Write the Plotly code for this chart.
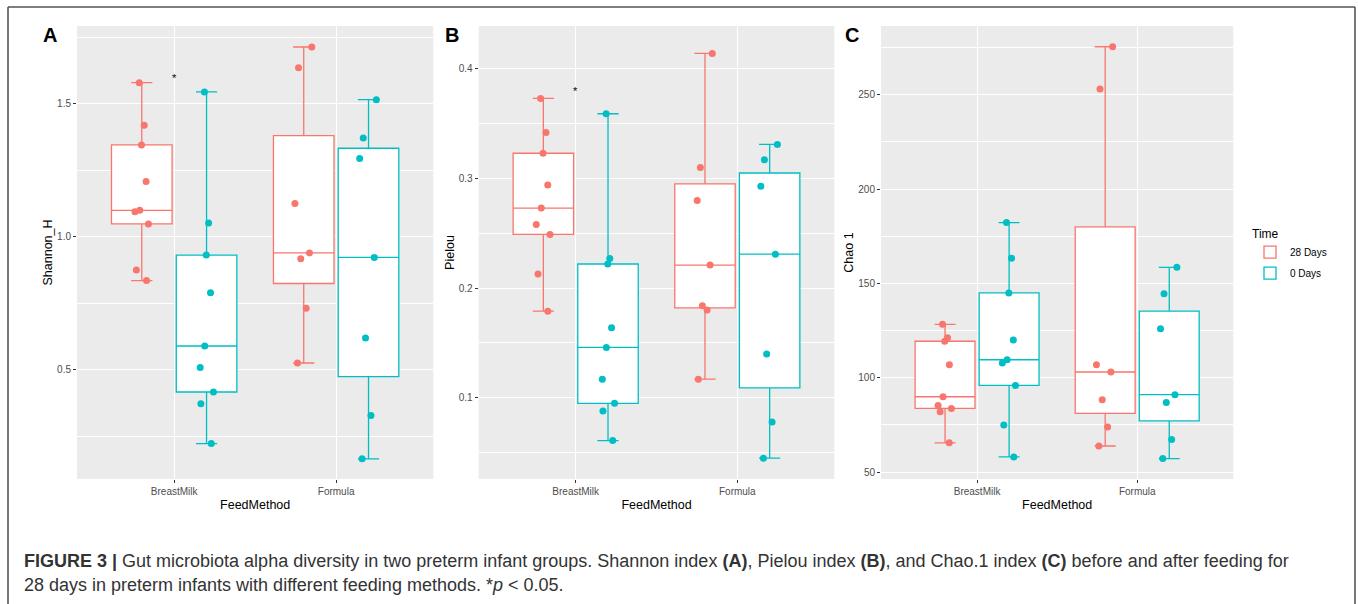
import plotly.graph_objects as go

W, H = 1358, 604

# ---------------- data ----------------
feed_methods = ["BreastMilk", "Formula"]
time_labels = ["28 Days", "0 Days"]
time_colors = ["#F8766D", "#00BFC4"]

shannon_bm_28 = [1.579, 1.419, 1.345, 1.207, 1.099, 1.094, 1.048, 0.875, 0.835]
shannon_bm_0 = [1.544, 1.051, 0.931, 0.789, 0.589, 0.508, 0.416, 0.372, 0.222]
shannon_f_28 = [1.713, 1.635, 1.125, 0.939, 0.917, 0.731, 0.525]
shannon_f_0 = [1.515, 1.371, 1.294, 0.922, 0.619, 0.328, 0.165]

pielou_bm_28 = [0.373, 0.342, 0.323, 0.294, 0.273, 0.258, 0.249, 0.213, 0.179]
pielou_bm_0 = [0.359, 0.227, 0.222, 0.164, 0.146, 0.117, 0.095, 0.088, 0.061]
pielou_f_28 = [0.414, 0.310, 0.280, 0.221, 0.184, 0.180, 0.117]
pielou_f_0 = [0.331, 0.317, 0.293, 0.231, 0.140, 0.078, 0.045]

chao_bm_28 = [128.3, 121.2, 119.3, 106.9, 89.9, 85.2, 83.7, 82.0, 65.5]
chao_bm_0 = [182.2, 163.3, 144.9, 120.0, 109.5, 107.8, 95.9, 74.9, 58.0]
chao_f_28 = [275.4, 253.0, 106.9, 103.0, 88.3, 73.9, 63.8]
chao_f_0 = [158.5, 144.5, 126.0, 91.0, 86.9, 67.3, 57.1]

y_titles = ["Shannon_H", "Pielou", "Chao 1"]
panel_letters = ["A", "B", "C"]
y_ranges = [[0.089, 1.792], [0.026, 0.439], [46.3, 286.4]]
y_dticks = [0.5, 0.1, 50]
y_formats = [".1f", ".1f", "d"]
signif_y = [1.607, 0.3824, None]  # '*' above BreastMilk

caption_line1 = ("<b>FIGURE 3 |</b> Gut microbiota alpha diversity in two preterm infant groups. "
                 "Shannon index <b>(A)</b>, Pielou index <b>(B)</b>, and Chao.1 index <b>(C)</b> "
                 "before and after feeding for")
caption_line2 = "28 days in preterm infants with different feeding methods. *<i>p</i> &lt; 0.05."

# ---------------- layout helpers ----------------
FONT = "Liberation Sans, Arial, Helvetica, sans-serif"


def fx(p):
    return p / W


def fy(p):
    return 1 - p / H


x_domains = [[fx(77), fx(433.3)], [fx(478.7), fx(834.3)], [fx(881), fx(1233.3)]]
y_domain = [fy(479), fy(26)]

panels = [
    (shannon_bm_28, shannon_f_28, shannon_bm_0, shannon_f_0),
    (pielou_bm_28, pielou_f_28, pielou_bm_0, pielou_f_0),
    (chao_bm_28, chao_f_28, chao_bm_0, chao_f_0),
]

fig = go.Figure()
annotations = []

for i, (bm28, f28, bm0, f0) in enumerate(panels):
    suffix = "" if i == 0 else str(i + 1)
    xa, ya = "x" + suffix, "y" + suffix
    groups = [(bm28, f28), (bm0, f0)]
    for k, (bm, f) in enumerate(groups):
        fig.add_trace(go.Box(
            x=[feed_methods[0]] * len(bm) + [feed_methods[1]] * len(f),
            y=bm + f,
            name=time_labels[k],
            legendgroup=time_labels[k],
            showlegend=(i == 0),
            alignmentgroup="panel%d" % i,
            offsetgroup=time_labels[k],
            marker=dict(color=time_colors[k], size=7, opacity=1),
            line=dict(color=time_colors[k], width=1.3),
            fillcolor="white",
            boxpoints="all",
            jitter=0.3,
            pointpos=0,
            whiskerwidth=0.35,
            quartilemethod="inclusive",
            hoverinfo="skip",
            xaxis=xa, yaxis=ya,
        ))

    axis_common = dict(
        showgrid=True, gridcolor="white", gridwidth=1.1,
        zeroline=False, showline=False,
        ticks="outside", ticklen=3, tickwidth=1, tickcolor="#333333",
        tickfont=dict(family=FONT, size=10, color="#4D4D4D"),
    )
    fig.layout["xaxis" + suffix] = dict(
        axis_common,
        domain=x_domains[i], anchor=ya,
        type="category", categoryorder="array", categoryarray=feed_methods,
        range=[-0.6, 1.6],
        title=dict(text="FeedMethod", font=dict(family=FONT, size=12.5, color="black"), standoff=4),
    )
    fig.layout["yaxis" + suffix] = dict(
        axis_common,
        domain=y_domain, anchor=xa,
        range=y_ranges[i], dtick=y_dticks[i], tickformat=y_formats[i],
        minor=dict(showgrid=True, gridcolor="white", gridwidth=0.5, dtick=y_dticks[i] / 2, ticks=""),
        title=dict(text=y_titles[i], font=dict(family=FONT, size=12.5, color="black"), standoff=1),
    )

    # panel letter
    letter_x = [41, 443, 843][i]
    annotations.append(dict(
        text="<b>%s</b>" % panel_letters[i], xref="paper", yref="paper",
        x=fx(letter_x), y=fy(35), xanchor="left", yanchor="middle", showarrow=False,
        font=dict(family=FONT, size=20, color="black"),
    ))
    if signif_y[i] is not None:
        annotations.append(dict(
            text="*", xref=xa, yref=ya, x=feed_methods[0], y=signif_y[i],
            xanchor="center", yanchor="middle", showarrow=False, yshift=-3,
            font=dict(family=FONT, size=11, color="black"),
        ))

# caption
annotations.append(dict(
    text=caption_line1, xref="paper", yref="paper", x=fx(22), y=fy(561),
    xanchor="left", yanchor="middle", showarrow=False,
    font=dict(family=FONT, size=18, color="#333333"),
))
annotations.append(dict(
    text=caption_line2, xref="paper", yref="paper", x=fx(22), y=fy(585),
    xanchor="left", yanchor="middle", showarrow=False,
    font=dict(family=FONT, size=18, color="#333333"),
))

# outer frame (open at the bottom)
frame = dict(color="#555555", width=1.6)
shapes = [
    dict(type="line", xref="paper", yref="paper", x0=fx(8), x1=fx(8), y0=fy(7), y1=0, line=frame),
    dict(type="line", xref="paper", yref="paper", x0=fx(8), x1=fx(1355), y0=fy(7), y1=fy(7), line=frame),
    dict(type="line", xref="paper", yref="paper", x0=fx(1355), x1=fx(1355), y0=fy(7), y1=0, line=frame),
]

fig.update_layout(
    width=W, height=H,
    margin=dict(l=0, r=0, t=0, b=0),
    paper_bgcolor="white",
    plot_bgcolor="#EBEBEB",
    boxmode="group",
    boxgap=0.2,
    boxgroupgap=0.065,
    font=dict(family=FONT, color="black"),
    legend=dict(
        title=dict(text="Time", font=dict(family=FONT, size=12, color="black")),
        font=dict(family=FONT, size=10, color="black"),
        x=fx(1250), y=fy(222), xanchor="left", yanchor="top",
        bgcolor="white", tracegroupgap=2, itemwidth=30,
    ),
    annotations=annotations,
    shapes=shapes,
)

fig.write_html(
    "out.html",
    config={"displayModeBar": False},
    post_script="document.body.style.margin='0';document.body.style.overflow='hidden';",
)
